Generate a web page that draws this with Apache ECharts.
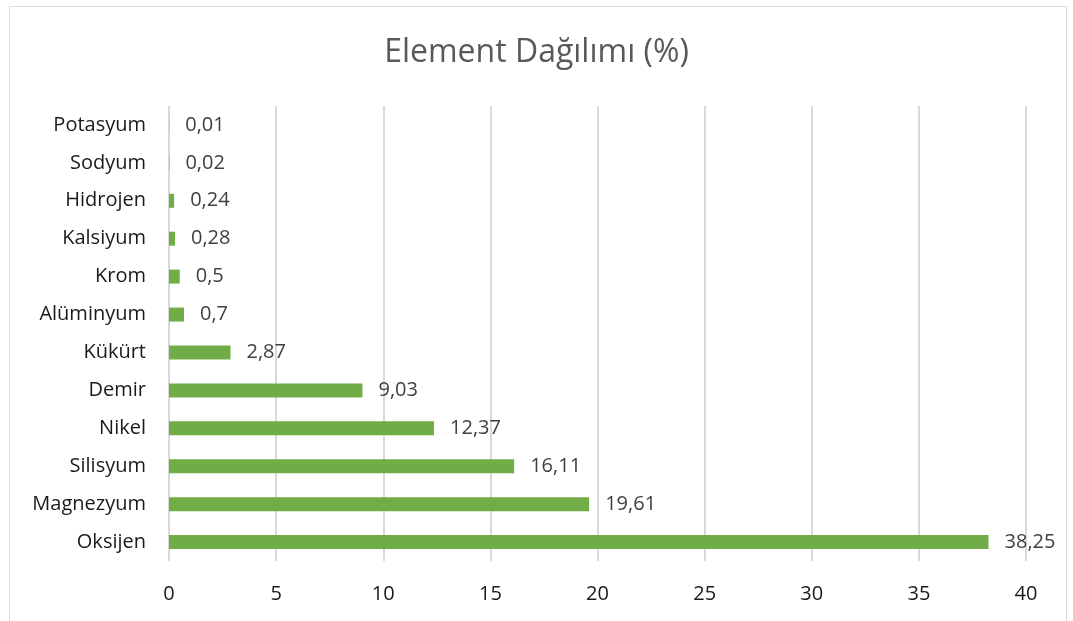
<!DOCTYPE html>
<html>
<head>
<meta charset="utf-8">
<script src="https://cdn.jsdelivr.net/npm/echarts@6/dist/echarts.min.js"></script>
<style>
  html, body { margin: 0; padding: 0; background: #ffffff; }
  #chart { width: 1073px; height: 621px; }
</style>
</head>
<body>
<div id="chart"></div>
<script>
// Elements, listed bottom to top
const elements = ['Oksijen', 'Magnezyum', 'Silisyum', 'Nikel', 'Demir', 'Kükürt',
  'Alüminyum', 'Krom', 'Kalsiyum', 'Hidrojen', 'Sodyum', 'Potasyum'];
const percentages = [38.25, 19.61, 16.11, 12.37, 9.03, 2.87, 0.7, 0.5, 0.28, 0.24, 0.02, 0.01];
const chartTitle = 'Element Dağılımı (%)';

const font = '"Open Sans", "Noto Sans", sans-serif';
const chart = echarts.init(document.getElementById('chart'));

chart.setOption({
  backgroundColor: '#ffffff',
  animation: false,
  title: {
    text: chartTitle,
    left: 'center',
    top: 32,
    textStyle: { fontFamily: font, fontSize: 32, fontWeight: 'normal', color: '#595959' }
  },
  graphic: [{
    type: 'rect',
    shape: { x: 9.5, y: 6.5, width: 1057, height: 630 },
    style: { fill: 'none', stroke: '#d9d9d9', lineWidth: 1 },
    silent: true
  }],
  grid: { left: 169, right: 47, top: 106, bottom: 60 },
  xAxis: {
    type: 'value',
    min: 0,
    max: 40,
    interval: 5,
    axisLine: { show: false },
    axisTick: { show: false },
    splitLine: { show: true, lineStyle: { color: '#d9d9d9', width: 2 } },
    axisLabel: { fontFamily: font, fontSize: 20, color: '#1a1a1a', margin: 23 }
  },
  yAxis: {
    type: 'category',
    data: elements,
    axisLine: { show: false },
    axisTick: { show: false },
    axisLabel: { fontFamily: font, fontSize: 20, color: '#1a1a1a', margin: 23 }
  },
  series: [{
    type: 'bar',
    data: percentages,
    barWidth: 14,
    itemStyle: { color: '#70ad47' },
    label: {
      show: true,
      position: 'right',
      distance: 16,
      fontFamily: font,
      fontSize: 20,
      color: '#404040',
      formatter: p => String(p.value).replace('.', ',')
    }
  }]
});
</script>
</body>
</html>
